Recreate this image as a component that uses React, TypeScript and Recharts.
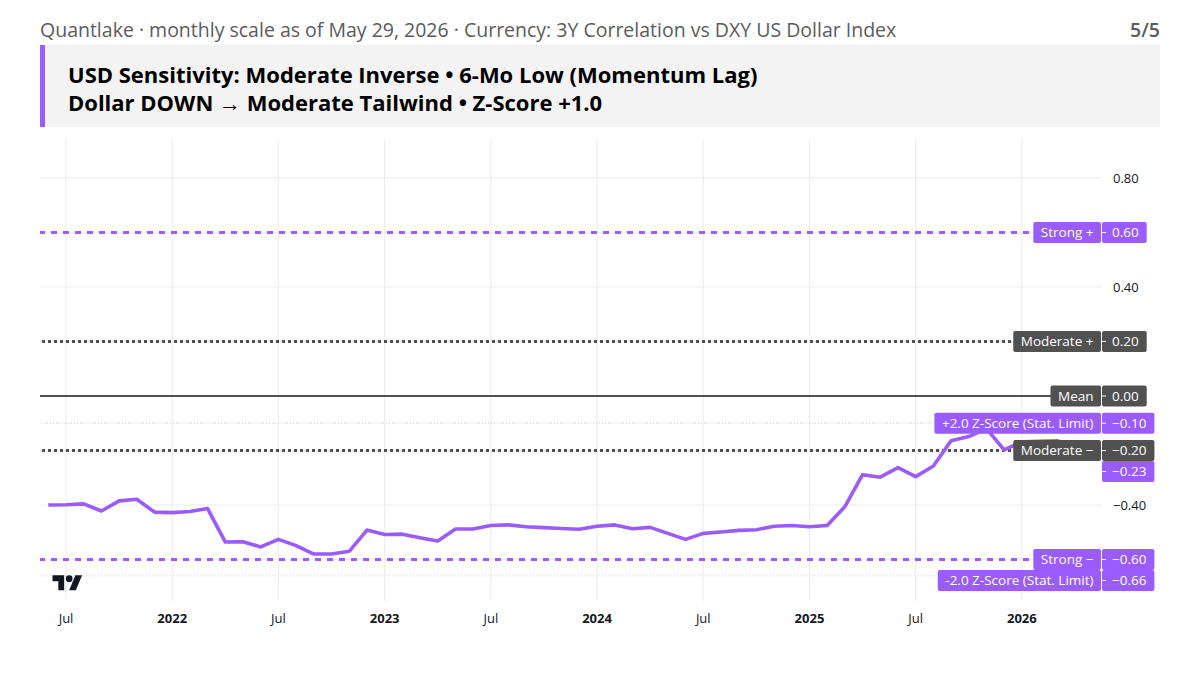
import React from 'react';
import { LineChart, Line, XAxis, YAxis, CartesianGrid, ReferenceLine } from 'recharts';

// Monthly 3Y rolling correlation vs DXY, Jun 2021 – May 2026
const months = [
  '2021-06', '2021-07', '2021-08', '2021-09', '2021-10', '2021-11', '2021-12',
  '2022-01', '2022-02', '2022-03', '2022-04', '2022-05', '2022-06', '2022-07', '2022-08', '2022-09', '2022-10', '2022-11', '2022-12',
  '2023-01', '2023-02', '2023-03', '2023-04', '2023-05', '2023-06', '2023-07', '2023-08', '2023-09', '2023-10', '2023-11', '2023-12',
  '2024-01', '2024-02', '2024-03', '2024-04', '2024-05', '2024-06', '2024-07', '2024-08', '2024-09', '2024-10', '2024-11', '2024-12',
  '2025-01', '2025-02', '2025-03', '2025-04', '2025-05', '2025-06', '2025-07', '2025-08', '2025-09', '2025-10', '2025-11', '2025-12',
  '2026-01', '2026-02', '2026-03', '2026-04', '2026-05',
];

const correlation = [
  -0.400, -0.399, -0.396, -0.422, -0.385, -0.379, -0.426,
  -0.428, -0.424, -0.413, -0.536, -0.535, -0.554, -0.526, -0.549, -0.580, -0.580, -0.570, -0.492,
  -0.508, -0.507, -0.520, -0.532, -0.488, -0.488, -0.475, -0.473, -0.480, -0.483, -0.486, -0.489,
  -0.478, -0.473, -0.487, -0.482, -0.504, -0.526, -0.504, -0.499, -0.493, -0.491, -0.478, -0.475,
  -0.480, -0.475, -0.406, -0.289, -0.298, -0.263, -0.296, -0.257, -0.164, -0.149, -0.120, -0.198,
  -0.168, -0.166, -0.164, -0.200, -0.230,
];

// Time-axis ticks (month index from Jun 2021) and their captions
const xTickIndex = [1, 7, 13, 19, 25, 31, 37, 43, 49, 55];
const xTickLabels = ['Jul', '2022', 'Jul', '2023', 'Jul', '2024', 'Jul', '2025', 'Jul', '2026'];

// Price-scale grid and the tick values that get a caption
const yGridValues = [-0.6, -0.4, -0.2, 0, 0.2, 0.4, 0.6, 0.8];
const yTickLabelValues = [0.8, 0.4, -0.4];

// Horizontal threshold levels
const levelNames = ['Strong +', 'Moderate +', 'Mean', '+2.0 Z-Score (Stat. Limit)', 'Moderate −', 'Strong −', '-2.0 Z-Score (Stat. Limit)'];
const levelValues = [0.6, 0.2, 0, -0.1, -0.2, -0.6, -0.66];
const levelKinds = ['strong', 'moderate', 'mean', 'zscore', 'moderate', 'strong', 'zscore'];

const PURPLE = '#9b5cff';
const GREY = '#515151';
const FONT = '"Open Sans", sans-serif';
const LABEL_FONT = `13.5px ${FONT}`;
const LABEL_H = 21;

const kindStyle: Record<string, { stroke: string; width: number; dash?: string; bg: string }> = {
  strong: { stroke: PURPLE, width: 3, dash: '6 6', bg: PURPLE },
  moderate: { stroke: GREY, width: 3, dash: '3 3', bg: GREY },
  mean: { stroke: GREY, width: 2, bg: GREY },
  zscore: { stroke: '#d4c1fb', width: 1, dash: '1 2', bg: PURPLE },
};

const data = months.map((m, i) => ({ idx: i, month: m, corr: correlation[i] }));
const lastValue = correlation[correlation.length - 1];

const fmt = (v: number) => (v < 0 ? '−' : '') + Math.abs(v).toFixed(2);

let ctx: CanvasRenderingContext2D | null = null;
const textWidth = (s: string) => {
  if (!ctx) ctx = document.createElement('canvas').getContext('2d');
  if (!ctx) return s.length * 7;
  ctx.font = LABEL_FONT;
  return ctx.measureText(s).width;
};

type Tag = { name?: string; price: string; bg: string };

// Draws a stack of tags at the right edge of the pane: an optional name box inside
// the pane plus a price box on the scale, each following tag placed just below.
function TagStack({ viewBox, tags }: { viewBox?: any; tags: Tag[] }) {
  if (!viewBox) return null;
  const right = viewBox.x + viewBox.width;
  return (
    <g>
      {tags.map((t, k) => {
        const cy = viewBox.y + k * LABEL_H;
        const top = cy - LABEL_H / 2;
        const nameW = t.name ? textWidth(t.name) + 15 : 0;
        const priceW = textWidth(t.price) + 18;
        return (
          <g key={k}>
            {t.name && (
              <>
                <rect x={right - nameW} y={top} width={nameW} height={LABEL_H} rx={2} fill={t.bg} />
                <text x={right - nameW / 2} y={cy} dy="0.36em" textAnchor="middle" fill="#fff" style={{ font: LABEL_FONT }}>
                  {t.name}
                </text>
              </>
            )}
            <rect x={right + 1} y={top} width={priceW} height={LABEL_H} rx={2} fill={t.bg} />
            <line x1={right + 1} x2={right + 5} y1={cy} y2={cy} stroke="#fff" strokeWidth={1} />
            <text x={right + 11} y={cy} dy="0.36em" textAnchor="start" fill="#fff" style={{ font: LABEL_FONT }}>
              {t.price}
            </text>
          </g>
        );
      })}
    </g>
  );
}

// Which level tags carry extra tags stacked underneath (overlapping neighbours)
const tagsForLevel = (i: number): Tag[] | null => {
  const v = levelValues[i];
  const own: Tag = { name: levelNames[i], price: fmt(v), bg: kindStyle[levelKinds[i]].bg };
  if (v === -0.66) return null;
  if (v === -0.6) {
    const j = levelValues.indexOf(-0.66);
    return [own, { name: levelNames[j], price: fmt(levelValues[j]), bg: kindStyle[levelKinds[j]].bg }];
  }
  if (v === -0.2) return [own, { price: fmt(lastValue), bg: PURPLE }];
  return [own];
};

const XTick = (props: any) => {
  const { x, y, payload } = props;
  const k = xTickIndex.indexOf(payload.value);
  const label = xTickLabels[k] ?? '';
  const isYear = label !== 'Jul';
  return (
    <text x={x} y={y + 20} textAnchor="middle" fill="#131722" fontSize={13} fontWeight={isYear ? 700 : 400} fontFamily={FONT}>
      {label}
    </text>
  );
};

const YTick = (props: any) => {
  const { x, y, payload } = props;
  if (!yTickLabelValues.some((v) => Math.abs(v - payload.value) < 1e-9)) return null;
  return (
    <text x={x} y={y} dy="0.36em" textAnchor="start" fill="#131722" fontSize={13} fontFamily={FONT}>
      {fmt(payload.value)}
    </text>
  );
};

const TVLogo = () => (
  <svg style={{ position: 'absolute', left: 52, top: 572 }} width={31} height={20} viewBox="0 0 36 24">
    <path d="M14 22H7V11H0V4h14v18zM28 22h-8l7.5-18h8L28 22z" fill="#131722" />
    <circle cx={20} cy={8} r={4} fill="#131722" />
  </svg>
);

export default function App() {
  return (
    <div style={{ position: 'absolute', left: 0, top: 0, width: 1200, height: 675, background: '#fff', fontFamily: FONT, overflow: 'hidden' }}>
      <LineChart width={1200} height={675} data={data} margin={{ top: 140, left: 40, right: 39, bottom: 44 }}>
        <CartesianGrid stroke="#ebebeb" strokeWidth={1} horizontalValues={yGridValues} verticalValues={xTickIndex} />
        <XAxis
          dataKey="idx"
          type="number"
          domain={[-0.47, 59.47]}
          ticks={xTickIndex}
          interval={0}
          tick={<XTick />}
          tickLine={false}
          axisLine={false}
          tickSize={0}
          height={30}
          allowDataOverflow
        />
        <YAxis
          orientation="right"
          type="number"
          domain={[-0.7523, 0.9394]}
          ticks={yGridValues}
          interval={0}
          tick={<YTick />}
          tickLine={false}
          axisLine={false}
          tickSize={0}
          tickMargin={12}
          width={60}
          allowDataOverflow
        />
        {levelValues.map((v, i) => {
          const s = kindStyle[levelKinds[i]];
          return (
            <ReferenceLine key={`l${i}`} y={v} stroke={s.stroke} strokeWidth={s.width} strokeDasharray={s.dash} ifOverflow="extendDomain" />
          );
        })}
        <Line
          type="linear"
          dataKey="corr"
          stroke={PURPLE}
          strokeWidth={3.6}
          dot={false}
          activeDot={false}
          isAnimationActive={false}
          strokeLinejoin="round"
        />
        {levelValues.map((v, i) => {
          const tags = tagsForLevel(i);
          if (!tags) return null;
          return (
            <ReferenceLine
              key={`t${i}`}
              y={v}
              stroke="none"
              strokeWidth={0}
              label={(p: any) => <TagStack viewBox={p.viewBox} tags={tags} />}
            />
          );
        })}
      </LineChart>
      <TVLogo />
      <div style={{ position: 'absolute', left: 40, top: 16, fontSize: 19.5, lineHeight: '28px', color: '#5b5b5b', whiteSpace: 'nowrap' }}>
        Quantlake · monthly scale as of May 29, 2026 · Currency: 3Y Correlation vs DXY US Dollar Index
      </div>
      <div style={{ position: 'absolute', right: 40, top: 16, fontSize: 19.5, lineHeight: '28px', color: '#5b5b5b', fontWeight: 600 }}>5/5</div>
      <div
        style={{
          position: 'absolute',
          left: 40,
          top: 45,
          width: 1120,
          height: 82,
          background: '#f3f3f3',
          borderLeft: '5px solid #9b5cff',
          boxSizing: 'border-box',
        }}
      >
        <div style={{ position: 'absolute', left: 23, top: 14, fontSize: 22, lineHeight: '30px', fontWeight: 700, color: '#000', whiteSpace: 'nowrap' }}>
          USD Sensitivity: Moderate Inverse • 6-Mo Low (Momentum Lag)
        </div>
        <div style={{ position: 'absolute', left: 23, top: 42, fontSize: 22, lineHeight: '30px', fontWeight: 700, color: '#000', whiteSpace: 'nowrap' }}>
          Dollar DOWN → Moderate Tailwind • Z-Score +1.0
        </div>
      </div>
    </div>
  );
}
